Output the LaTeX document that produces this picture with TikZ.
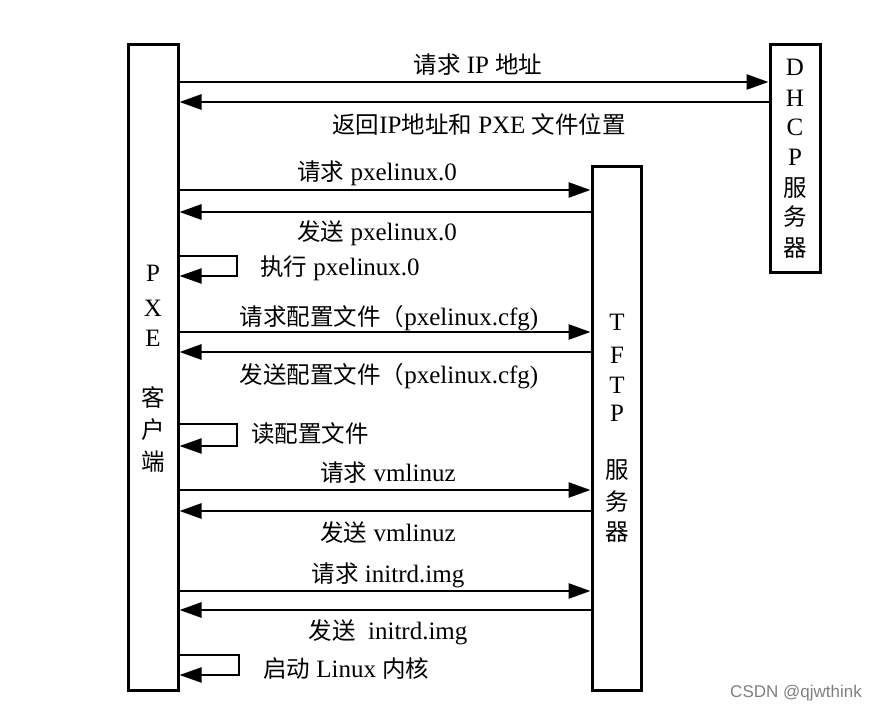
\documentclass[tikz,border=0pt]{standalone}
\usepackage{fontspec}
\setmainfont{Liberation Serif}
\newfontfamily\cjk[Scale=0.94]{Noto Sans CJK SC}
\newfontfamily\wmfont{Liberation Sans}
\usetikzlibrary{arrows.meta,calc,positioning}
\newcommand{\zh}[1]{{\cjk #1}}
\tikzset{
  hostbox/.style={draw,line width=3pt,inner sep=0pt},
  msg/.style={line width=2.6pt,-{Triangle[length=22pt,width=15pt]}},
  selfmsg/.style={line width=2pt,-{Triangle[length=22pt,width=15pt]}},
  lbl/.style={font=\fontsize{25}{28}\selectfont,inner sep=0pt},
  boxtxt/.style={font=\fontsize{25}{28}\selectfont,inner sep=0pt}
}

\begin{document}
\begin{tikzpicture}[x=1pt,y=-1pt]
  \useasboundingbox[fill=white] (0,0) rectangle (880,714);
  % hosts
  \node[hostbox,minimum width=50pt,minimum height=645pt] (pxe) at (153,367.5) {};
  \node[hostbox,minimum width=49pt,minimum height=523pt] (tftp) at (616.5,428.5) {};
  \node[hostbox,minimum width=50pt,minimum height=227pt] (dhcp) at (795,158.5) {};
  % vertical names
  \foreach \t/\y in {P/273,X/308,E/338,\zh{客}/397,\zh{户}/430,\zh{端}/462}
    \node[boxtxt] at (153,\y) {\t};
  \foreach \t/\y in {T/322,F/355,T/385,P/413,\zh{服}/470,\zh{务}/502,\zh{器}/532}
    \node[boxtxt] at (617,\y) {\t};
  \foreach \t/\y in {D/67,H/98,C/127,P/157,\zh{服}/188,\zh{务}/217,\zh{器}/248}
    \node[boxtxt] at (795,\y) {\t};
  % DHCP exchange
  \draw[msg] (pxe.east |- 0,82) -- (dhcp.west |- 0,82);
  \node[lbl] (ipreq) at (478,65) {\zh{请求} IP \zh{地址}};
  \draw[msg] (dhcp.west |- 0,102) -- (pxe.east |- 0,102);
  \node[lbl] (ipret) at (479,124) {\zh{返回}IP\zh{地址和} PXE \zh{文件位置}};
  % TFTP exchange
  \draw[msg] (pxe.east |- 0,190) -- (tftp.west |- 0,190);
  \node[lbl] (pxreq) at (377,173) {\zh{请求} pxelinux.0};
  \draw[msg] (tftp.west |- 0,212) -- (pxe.east |- 0,212);
  \node[lbl] (pxsnd) at (377,233) {\zh{发送} pxelinux.0};
  \draw[selfmsg] (pxe.east |- 0,256) -- ++(57,0) |- (pxe.east |- 0,276);
  \node[lbl,anchor=west] (pxrun) at (260,268) {\zh{执行} pxelinux.0};
  \draw[msg] (pxe.east |- 0,332) -- (tftp.west |- 0,332);
  \node[lbl] (cfgreq) at (389,318) {\zh{请求配置文件（}pxelinux.cfg)};
  \draw[msg] (tftp.west |- 0,352) -- (pxe.east |- 0,352);
  \node[lbl] (cfgsnd) at (389,376) {\zh{发送配置文件（}pxelinux.cfg)};
  \draw[selfmsg] (pxe.east |- 0,424) -- ++(57,0) |- (pxe.east |- 0,446);
  \node[lbl,anchor=west] (cfgread) at (251,434) {\zh{读配置文件}};
  \draw[msg] (pxe.east |- 0,490) -- (tftp.west |- 0,490);
  \node[lbl] (vmreq) at (388,473) {\zh{请求} vmlinuz};
  \draw[msg] (tftp.west |- 0,511) -- (pxe.east |- 0,511);
  \node[lbl] (vmsnd) at (388,533) {\zh{发送} vmlinuz};
  \draw[msg] (pxe.east |- 0,591) -- (tftp.west |- 0,591);
  \node[lbl] (rdreq) at (388,575) {\zh{请求} initrd.img};
  \draw[msg] (tftp.west |- 0,610) -- (pxe.east |- 0,610);
  \node[lbl] (rdsnd) at (388,632) {\zh{发送}\ \ initrd.img};
  \draw[selfmsg] (pxe.east |- 0,655) -- ++(59,0) |- (pxe.east |- 0,675);
  \node[lbl,anchor=west] (boot) at (263,669) {\zh{启动} Linux \zh{内核}};
  % watermark
  \node[font=\wmfont\fontsize{17}{19}\selectfont,text=gray] (wm) at (796,693) {CSDN @qjwthink};
\end{tikzpicture}
\end{document}
